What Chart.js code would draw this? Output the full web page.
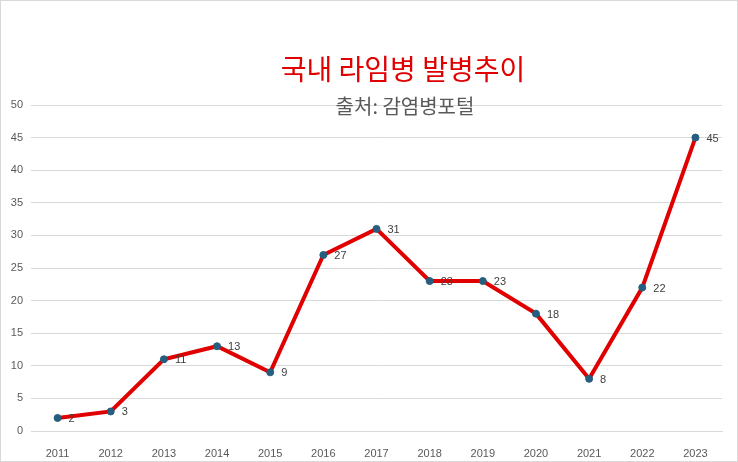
<!DOCTYPE html>
<html>
<head>
<meta charset="utf-8">
<script src="https://cdn.jsdelivr.net/npm/chart.js@4"></script>
<style>
  html, body { margin: 0; padding: 0; background: #fff; }
  #wrap { width: 738px; height: 462px; position: relative; }
</style>
</head>
<body>
<div id="wrap"><canvas id="lymeChart" width="738" height="462"></canvas></div>
<script>
const years = ["2011", "2012", "2013", "2014", "2015", "2016", "2017", "2018", "2019", "2020", "2021", "2022", "2023"];
const cases = [2, 3, 11, 13, 9, 27, 31, 23, 23, 18, 8, 22, 45];
const titleText = "국내 라임병 발병추이";
const subtitleText = "출처: 감염병포털";

const KFONT = "'Noto Sans CJK KR', 'Noto Sans', sans-serif";

// white background, thin frame, titles
const decor = {
  id: "decor",
  beforeDraw(chart) {
    const c = chart.ctx;
    c.save();
    c.fillStyle = "#fff";
    c.fillRect(0, 0, chart.width, chart.height);
    c.strokeStyle = "#d9d9d9";
    c.lineWidth = 1;
    c.strokeRect(0.5, 0.5, chart.width - 1, chart.height - 1);
    c.restore();
  },
  afterDraw(chart) {
    const c = chart.ctx;
    c.save();
    c.textAlign = "center";
    c.textBaseline = "middle";
    c.fillStyle = "#e00000";
    c.font = "28px " + KFONT;
    c.fillText(titleText, 403, 69);
    c.fillStyle = "#595959";
    c.font = "20px " + KFONT;
    c.fillText(subtitleText, 405, 106);
    c.restore();
  }
};

// value labels to the right of each point
const valueLabels = {
  id: "valueLabels",
  afterDatasetsDraw(chart) {
    const c = chart.ctx;
    const meta = chart.getDatasetMeta(0);
    c.save();
    c.font = "11px 'Liberation Sans', Arial, sans-serif";
    c.fillStyle = "#404040";
    c.textAlign = "left";
    c.textBaseline = "middle";
    meta.data.forEach((pt, i) => {
      c.fillText(String(chart.data.datasets[0].data[i]), pt.x + 11, pt.y + 1);
    });
    c.restore();
  }
};

new Chart(document.getElementById("lymeChart").getContext("2d"), {
  type: "line",
  data: {
    labels: years,
    datasets: [{
      data: cases,
      borderColor: "#e00000",
      borderWidth: 4,
      pointBackgroundColor: "#255e7e",
      pointBorderColor: "#255e7e",
      pointRadius: 3.5,
      pointBorderWidth: 1,
      tension: 0
    }]
  },
  options: {
    responsive: false,
    animation: false,
    devicePixelRatio: 1,
    layout: { padding: { top: 105, right: 16, left: 0, bottom: 0 } },
    plugins: {
      legend: { display: false },
      tooltip: { enabled: false }
    },
    scales: {
      x: {
        offset: true,
        grid: { display: false },
        border: { color: "#d9d9d9" },
        ticks: {
          color: "#595959",
          font: { size: 11, family: "'Liberation Sans', Arial, sans-serif" },
          padding: 8,
          maxRotation: 0
        },
        afterFit: s => { s.height = 31; }
      },
      y: {
        min: 0,
        max: 50,
        grid: { color: "#d9d9d9", drawTicks: false },
        border: { display: false },
        ticks: {
          stepSize: 5,
          color: "#595959",
          font: { size: 11, family: "'Liberation Sans', Arial, sans-serif" },
          padding: 8
        },
        afterFit: s => { s.width = 31; }
      }
    }
  },
  plugins: [decor, valueLabels]
});
</script>
</body>
</html>
